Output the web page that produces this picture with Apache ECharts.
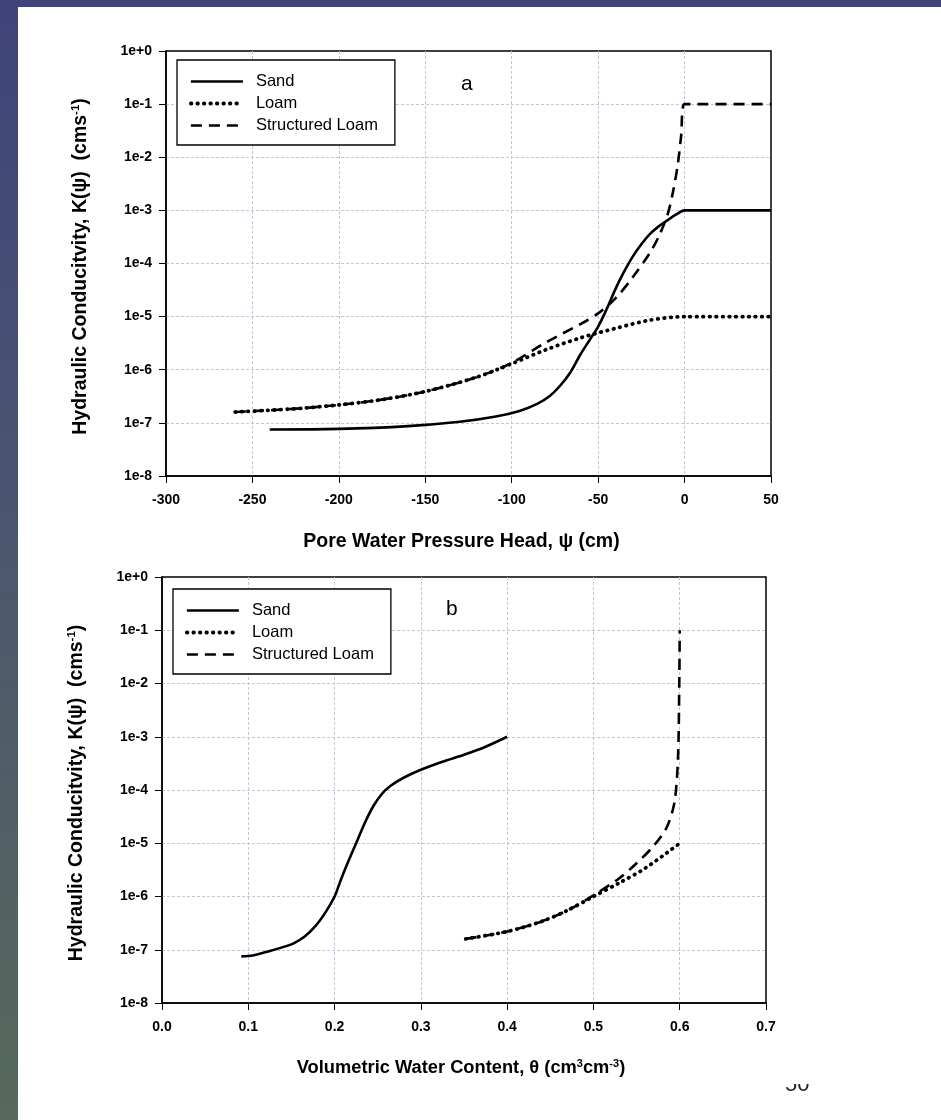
<!DOCTYPE html>
<html>
<head>
<meta charset="utf-8">
<script src="https://cdn.jsdelivr.net/npm/echarts@6/dist/echarts.min.js"></script>
<style>
  html, body { margin:0; padding:0; background:#fff; }
  #wrap { position:relative; width:941px; height:1120px; overflow:hidden; background:#fff; }
  #topband { position:absolute; left:0; top:0; width:941px; height:7px; background:#3f437a; }
  #leftband { position:absolute; left:0; top:0; width:18px; height:1120px; background:linear-gradient(#3f437a, #4a5670 45%, #56695a); }
  #chart { position:absolute; left:0; top:0; width:941px; height:1120px; }
  #pg { position:absolute; left:785px; top:1084px; width:40px; height:9px; overflow:hidden; }
  #pg span { position:absolute; left:0; top:-11px; font:22px/22px "Liberation Sans", Arial, sans-serif; color:#222; }
</style>
</head>
<body>
<div id="wrap">
  <div id="chart"></div>
  <div id="topband"></div>
  <div id="leftband"></div>
  <div id="pg"><span>50</span></div>
</div>
<script>
// ---------- data ----------
const seriesNames = ['Sand', 'Loam', 'Structured Loam'];
const yTickLabels = ['1e-8','1e-7','1e-6','1e-5','1e-4','1e-3','1e-2','1e-1','1e+0'];
const xTickLabelsA = ['-300','-250','-200','-150','-100','-50','0','50'];
const xTickLabelsB = ['0.0','0.1','0.2','0.3','0.4','0.5','0.6','0.7'];

// Panel a: pressure head (cm) vs K (cm/s)
const sandA = [[-240,7.5e-8],[-200,7.7e-8],[-160,8.7e-8],[-130,1.05e-7],[-110,1.3e-7],[-95,1.7e-7],[-85,2.3e-7],[-78,3.2e-7],[-72,5e-7],[-66,9e-7],[-60,2e-6],[-55,3.6e-6],[-50,6.5e-6],[-45,1.4e-5],[-40,3.3e-5],[-35,7e-5],[-30,1.35e-4],[-25,2.3e-4],[-20,3.6e-4],[-15,5e-4],[-10,6.5e-4],[-5,8.3e-4],[0,1e-3],[50,1e-3]];
const loamA = [[-260,1.6e-7],[-220,1.9e-7],[-180,2.6e-7],[-150,3.9e-7],[-120,7.3e-7],[-100,1.3e-6],[-80,2.4e-6],[-60,4e-6],[-40,6e-6],[-20,8.6e-6],[0,1e-5],[50,1e-5]];
const structA = [[-260,1.6e-7],[-220,1.9e-7],[-180,2.6e-7],[-150,3.9e-7],[-120,7.3e-7],[-100,1.35e-6],[-80,3.3e-6],[-60,7.3e-6],[-50,1.15e-5],[-40,2.2e-5],[-30,5.5e-5],[-20,1.6e-4],[-15,3.2e-4],[-10,8e-4],[-7,2e-3],[-4,7e-3],[-2,2.5e-2],[0,1e-1],[50,1e-1]];

// Panel b: water content vs K (cm/s)
const sandB = [[0.092,7.5e-8],[0.105,7.8e-8],[0.125,9.5e-8],[0.14,1.12e-7],[0.152,1.3e-7],[0.165,1.75e-7],[0.178,2.8e-7],[0.19,5.2e-7],[0.20,1e-6],[0.207,2e-6],[0.215,4.2e-6],[0.225,1e-5],[0.235,2.4e-5],[0.245,5e-5],[0.255,8.5e-5],[0.265,1.2e-4],[0.28,1.7e-4],[0.30,2.4e-4],[0.325,3.4e-4],[0.35,4.6e-4],[0.375,6.5e-4],[0.40,1e-3]];
const loamB = [[0.352,1.6e-7],[0.40,2.2e-7],[0.44,3.4e-7],[0.47,5.5e-7],[0.50,1e-6],[0.53,1.8e-6],[0.56,3.4e-6],[0.60,1e-5]];
const structB = [[0.352,1.6e-7],[0.40,2.2e-7],[0.44,3.4e-7],[0.47,5.5e-7],[0.50,1.05e-6],[0.53,2.2e-6],[0.55,4.2e-6],[0.57,9e-6],[0.585,2e-5],[0.594,6e-5],[0.598,4e-4],[0.5995,1e-2],[0.600,1e-1]];

// ---------- chart ----------
const FONT = '"Liberation Sans", Arial, sans-serif';
const chart = echarts.init(document.getElementById('chart'), null, {renderer:'canvas'});

function yLabel(v){ return yTickLabels[Math.round(Math.log10(v)) + 8]; }

const lineStyles = [
  {type:'solid', width:2.6, color:'#000'},
  {type:[0.5,6], width:3.8, color:'#000', cap:'round'},
  {type:[11,7], width:2.6, color:'#000'}
];

const splitStyle = {show:true, showMinLine:false, showMaxLine:false, lineStyle:{color:'#c3c6d6', width:1, type:[3,2]}};
function supStyle(fs){ return {sup:{fontFamily:FONT, fontWeight:'bold', fontSize:fs, color:'#000', padding:[0,0,9,0]}}; }

function yAxis(gi){
  return {
    type:'log', logBase:10, min:1e-8, max:1, interval:1, gridIndex:gi,
    name:'Hydraulic Conducitvity, K(ψ)  (cms{sup|-1})',
    nameLocation:'middle', nameGap:75, nameRotate:90,
    nameTextStyle:{fontFamily:FONT, fontWeight:'bold', fontSize:19.5, color:'#000', padding:[0,6,0,0], rich:supStyle(11.5)},
    axisLine:{show:true, onZero:false, lineStyle:{color:'#000', width:1.5}},
    axisTick:{show:true, inside:false, length:7, lineStyle:{color:'#000', width:1}},
    minorTick:{show:false},
    axisLabel:{formatter:yLabel, fontFamily:FONT, fontWeight:'bold', fontSize:14, color:'#000', margin:14},
    splitLine:splitStyle
  };
}

function xAxis(gi, min, max, interval, labels, name, gap, pad, fs){
  return {
    type:'value', min:min, max:max, interval:interval, gridIndex:gi,
    name:name, nameLocation:'middle', nameGap:gap,
    nameTextStyle:{fontFamily:FONT, fontWeight:'bold', fontSize:fs, color:'#000', padding:pad, rich:supStyle(11)},
    axisLine:{show:true, onZero:false, lineStyle:{color:'#000', width:1.5}},
    axisTick:{show:true, inside:false, length:7, lineStyle:{color:'#000', width:1}},
    axisLabel:{formatter:function(v){ return labels[Math.round((v-min)/interval)]; },
      fontFamily:FONT, fontWeight:'bold', fontSize:14, color:'#000', margin:17},
    splitLine:splitStyle
  };
}

function legend(left, top){
  return {
    data:seriesNames.map(function(n){ return {name:n}; }),
    orient:'vertical', left:left, top:top,
    itemWidth:52, itemHeight:14, itemGap:5,
    padding:[13,17,11,12],
    borderColor:'#000', borderWidth:1.3, backgroundColor:'#fff',
    selectedMode:false,
    itemStyle:{opacity:0, borderWidth:0},
    lineStyle:{width:'inherit'},
    textStyle:{fontFamily:FONT, fontSize:16.5, color:'#000', padding:[0,0,0,8]}
  };
}

function mkSeries(data, i, gi){
  return {
    name:seriesNames[i], type:'line', xAxisIndex:gi, yAxisIndex:gi,
    data:data, showSymbol:false, symbol:'none', smooth:0.3,
    lineStyle:lineStyles[i], itemStyle:{color:'#000'}, z:3, silent:true, animation:false
  };
}

chart.setOption({
  animation:false,
  backgroundColor:'transparent',
  title:[
    {text:'a', left:456, top:69, textStyle:{fontFamily:FONT, fontWeight:'normal', fontSize:21, color:'#000'}},
    {text:'b', left:441, top:594, textStyle:{fontFamily:FONT, fontWeight:'normal', fontSize:21, color:'#000'}}
  ],
  legend:[legend(177,60), legend(173,589)],
  grid:[
    {left:166, top:51, width:605, height:425, show:true, borderColor:'#000', borderWidth:1.5, containLabel:false},
    {left:162, top:577, width:604, height:426, show:true, borderColor:'#000', borderWidth:1.5, containLabel:false}
  ],
  xAxis:[
    xAxis(0, -300, 50, 50, xTickLabelsA, 'Pore Water Pressure Head, ψ (cm)', 56, [0,14,0,0], 19.5),
    xAxis(1, 0, 0.7, 0.1, xTickLabelsB, 'Volumetric Water Content, θ (cm{sup|3}cm{sup|-3})', 55, [0,6,0,0], 18.3)
  ],
  yAxis:[yAxis(0), yAxis(1)],
  series:[
    mkSeries(sandA,0,0), mkSeries(loamA,1,0), mkSeries(structA,2,0),
    mkSeries(sandB,0,1), mkSeries(loamB,1,1), mkSeries(structB,2,1)
  ]
});
</script>
</body>
</html>
